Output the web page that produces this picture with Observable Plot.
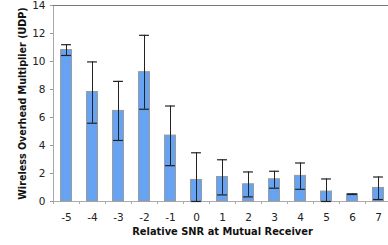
<!DOCTYPE html>
<html><head><meta charset="utf-8">
<script src="https://cdn.jsdelivr.net/npm/d3@7"></script>
<script src="https://cdn.jsdelivr.net/npm/@observablehq/plot@0.6"></script>
<style>
html,body{margin:0;padding:0;background:#fff;overflow:hidden;}
</style>
</head><body><div id="chart"></div>
<script>
const snr = [-5, -4, -3, -2, -1, 0, 1, 2, 3, 4, 5, 6, 7];
const mean = [10.82, 7.82, 6.47, 9.24, 4.71, 1.54, 1.75, 1.23, 1.59, 1.83, 0.71, 0.52, 0.97];
const errLow = [10.43, 5.59, 4.36, 6.59, 2.56, 0.0, 0.47, 0.33, 0.95, 0.87, 0.0, 0.50, 0.14];
const errHigh = [11.2, 9.97, 8.58, 11.87, 6.82, 3.48, 2.98, 2.11, 2.16, 2.75, 1.61, 0.54, 1.75];
const yTicks = [0, 2, 4, 6, 8, 10, 12, 14];

const data = snr.map((s, i) => ({snr: s, mean: mean[i], lo: errLow[i], hi: errHigh[i]}));
const edges = d3.range(snr[0] - 0.5, snr[snr.length - 1] + 1, 1);
const halfBar = 0.21, halfCap = 0.19;

const chart = Plot.plot({
  width: 388, height: 245,
  marginLeft: 53, marginRight: -3, marginTop: 5, marginBottom: 44,
  style: {fontFamily: "DejaVu Sans, Verdana, sans-serif", fontSize: "10px", color: "#222", overflow: "visible"},
  x: {domain: [-5.5, 7.5]},
  y: {domain: [0, 14]},
  marks: [
    Plot.axisY({ticks: yTicks, tickSize: 3, tickPadding: 5, stroke: "#999", label: null, fontSize: 10.5, tickFormat: d => String(d)}),
    Plot.axisX({ticks: edges, tickSize: 3, tickFormat: () => "", stroke: "#aaa", label: null}),
    Plot.axisX({ticks: snr, tickSize: 0, tickPadding: 12, label: null, fontSize: 10.5, tickFormat: d => String(d)}),
    Plot.ruleX([-5.5], {stroke: "#aaa"}),
    Plot.ruleY([0], {stroke: "#aaa"}),
    Plot.ruleY([14], {stroke: "#777", strokeWidth: 1.2}),
    Plot.rectY(data, {x1: d => d.snr - halfBar, x2: d => d.snr + halfBar, y1: 0, y2: "mean", fill: "#67a3f3", stroke: "#9a9a9a", strokeWidth: 1}),
    Plot.ruleX(data, {x: "snr", y1: "lo", y2: "hi", stroke: "#222", strokeWidth: 1}),
    Plot.ruleY(data, {y: "lo", x1: d => d.snr - halfCap, x2: d => d.snr + halfCap, stroke: "#222", strokeWidth: 1.2}),
    Plot.ruleY(data, {y: "hi", x1: d => d.snr - halfCap, x2: d => d.snr + halfCap, stroke: "#222", strokeWidth: 1.2}),
    Plot.text(["Wireless Overhead Multiplier (UDP)"], {frameAnchor: "left", textAnchor: "middle", dx: -31, rotate: -90, fontWeight: "bold", fontSize: 9.6, fill: "#111"}),
    Plot.text(["Relative SNR at Mutual Receiver"], {frameAnchor: "bottom", dy: 33, fontWeight: "bold", fontSize: 9.9, fill: "#111"})
  ]
});
document.getElementById("chart").appendChild(chart);
</script>
</body></html>
